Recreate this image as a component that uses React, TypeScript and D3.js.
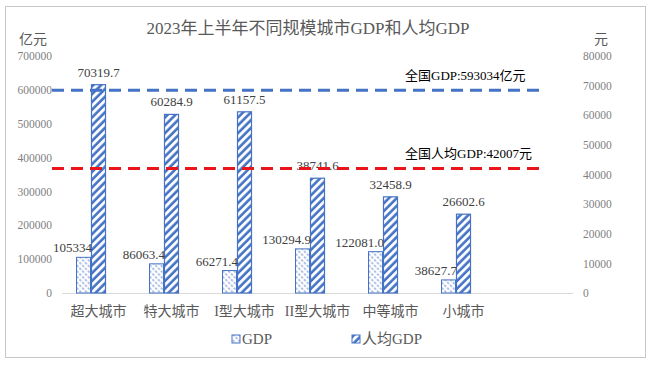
import React, { useEffect, useRef } from 'react';
import * as d3 from 'd3';

const categories = ['超大城市', '特大城市', 'I型大城市', 'II型大城市', '中等城市', '小城市'];
const gdpValues = [105334, 86063.4, 66271.4, 130294.9, 122081.0, 38627.7];
const gdpLabels = ['105334', '86063.4', '66271.4', '130294.9', '122081.0', '38627.7'];
const perCapita = [70319.7, 60284.9, 61157.5, 38741.6, 32458.9, 26602.6];
const perCapitaLabels = ['70319.7', '60284.9', '61157.5', '38741.6', '32458.9', '26602.6'];
const leftTicks = [0, 100000, 200000, 300000, 400000, 500000, 600000, 700000];
const rightTicks = [0, 10000, 20000, 30000, 40000, 50000, 60000, 70000, 80000];
const nationalGdp = 593034;
const nationalPerCapita = 42007;

const BLUE = '#4472C4';
const RED = '#E8161B';
const GREY = '#595959';
const SERIF = '"Times New Roman", "Liberation Serif", "Noto Sans CJK SC", serif';

const App: React.FC = () => {
  const ref = useRef<SVGSVGElement | null>(null);

  useEffect(() => {
    if (!ref.current) return;
    const svg = d3.select(ref.current);
    svg.selectAll('*').remove();

    const top = 56, bottom = 293;
    const left = 62, axisEnd = 573;
    const band = 73;

    const x0 = d3.scaleBand<string>()
      .domain(categories)
      .range([left, left + band * categories.length]);
    // third slot left empty, like the original grouping
    const x1 = d3.scaleBand<string>()
      .domain(['gdp', 'pc', 'empty'])
      .range([-22.5, 22.5]);

    const yL = d3.scaleLinear().domain([0, 700000]).range([bottom, top]);
    const yR = d3.scaleLinear().domain([0, 80000]).range([bottom, top]);

    const defs = svg.append('defs');
    const pc = defs.append('pattern')
      .attr('id', 'pcPat')
      .attr('patternUnits', 'userSpaceOnUse')
      .attr('width', 5.5).attr('height', 5.5)
      .attr('patternTransform', 'rotate(45)');
    pc.append('rect').attr('width', 5.5).attr('height', 5.5).attr('fill', '#fff');
    pc.append('line').attr('x1', 1.5).attr('x2', 1.5).attr('y1', 0).attr('y2', 5.5)
      .attr('stroke', BLUE).attr('stroke-width', 2.6);

    const gp = defs.append('pattern')
      .attr('id', 'gdpPat')
      .attr('patternUnits', 'userSpaceOnUse')
      .attr('width', 4).attr('height', 4)
      .attr('patternTransform', 'rotate(-45)');
    gp.append('rect').attr('width', 4).attr('height', 4).attr('fill', '#fff');
    gp.append('line').attr('x1', 1).attr('x2', 1).attr('y1', 0).attr('y2', 4)
      .attr('stroke', '#5f82cc').attr('stroke-width', 1).attr('stroke-dasharray', '2.5,1.5');

    // chart frame
    svg.append('rect')
      .attr('x', 5.5).attr('y', 6.5).attr('width', 640).attr('height', 351)
      .attr('fill', '#fff').attr('stroke', '#c8c8c8').attr('stroke-width', 1);

    svg.append('text')
      .attr('x', 308).attr('y', 34)
      .attr('text-anchor', 'middle')
      .attr('font-family', SERIF)
      .attr('font-size', 17)
      .attr('fill', GREY)
      .text('2023年上半年不同规模城市GDP和人均GDP');

    svg.append('text').attr('x', 33).attr('y', 44).attr('text-anchor', 'middle')
      .attr('font-family', SERIF).attr('font-size', 14).attr('fill', GREY).text('亿元');
    svg.append('text').attr('x', 601).attr('y', 44).attr('text-anchor', 'middle')
      .attr('font-family', SERIF).attr('font-size', 14).attr('fill', GREY).text('元');

    // axes
    const gL = svg.append('g')
      .attr('transform', `translate(${left},0)`)
      .call(d3.axisLeft(yL).tickValues(leftTicks).tickSize(0).tickPadding(10).tickFormat(d3.format('d')));
    gL.select('.domain').remove();
    gL.selectAll('text').attr('font-family', SERIF).attr('font-size', 11.5).attr('fill', '#7f7f7f');

    const gR = svg.append('g')
      .attr('transform', `translate(${axisEnd},0)`)
      .call(d3.axisRight(yR).tickValues(rightTicks).tickSize(0).tickPadding(10).tickFormat(d3.format('d')));
    gR.select('.domain').remove();
    gR.selectAll('text').attr('font-family', SERIF).attr('font-size', 11.5).attr('fill', '#7f7f7f');

    svg.append('line')
      .attr('x1', left).attr('x2', axisEnd).attr('y1', bottom + 0.5).attr('y2', bottom + 0.5)
      .attr('stroke', '#d9d9d9');

    const gX = svg.append('g')
      .attr('transform', `translate(0,${bottom})`)
      .call(d3.axisBottom(x0).tickSize(0).tickPadding(13));
    gX.select('.domain').remove();
    gX.selectAll('text')
      .attr('font-family', SERIF).attr('font-size', 14).attr('fill', GREY);

    // bars
    const groups = svg.append('g').selectAll('g')
      .data(categories)
      .join('g')
      .attr('transform', d => `translate(${(x0(d) || 0) + x0.bandwidth() / 2},0)`);

    groups.append('rect')
      .attr('x', (d, i) => (x1('gdp') || 0) + 0.5)
      .attr('y', (d, i) => yL(gdpValues[i]))
      .attr('width', x1.bandwidth() - 1)
      .attr('height', (d, i) => bottom - yL(gdpValues[i]))
      .attr('fill', 'url(#gdpPat)')
      .attr('stroke', BLUE).attr('stroke-width', 1);

    groups.append('rect')
      .attr('x', (d, i) => (x1('pc') || 0) + 0.5)
      .attr('y', (d, i) => yR(perCapita[i]))
      .attr('width', x1.bandwidth() - 1)
      .attr('height', (d, i) => bottom - yR(perCapita[i]))
      .attr('fill', 'url(#pcPat)')
      .attr('stroke', BLUE).attr('stroke-width', 1.2);

    groups.append('text')
      .attr('x', (x1('gdp') || 0) + x1.bandwidth() + 1)
      .attr('y', (d, i) => yL(gdpValues[i]) - 5)
      .attr('text-anchor', 'end')
      .attr('font-family', SERIF).attr('font-size', 13).attr('fill', '#404040')
      .text((d, i) => gdpLabels[i]);

    groups.append('text')
      .attr('x', (x1('pc') || 0) + x1.bandwidth() / 2)
      .attr('y', (d, i) => yR(perCapita[i]) - 8)
      .attr('text-anchor', 'middle')
      .attr('font-family', SERIF).attr('font-size', 13).attr('fill', '#404040')
      .text((d, i) => perCapitaLabels[i]);

    // national reference lines
    svg.append('line')
      .attr('x1', 52).attr('x2', 541)
      .attr('y1', yL(nationalGdp) - 2).attr('y2', yL(nationalGdp) - 2)
      .attr('stroke', BLUE).attr('stroke-width', 3).attr('stroke-dasharray', '12,7');
    svg.append('text')
      .attr('x', 405).attr('y', 80)
      .attr('font-family', SERIF).attr('font-size', 13).attr('fill', '#000')
      .text(`全国GDP:${nationalGdp}亿元`);

    svg.append('line')
      .attr('x1', 52).attr('x2', 541)
      .attr('y1', yR(nationalPerCapita)).attr('y2', yR(nationalPerCapita))
      .attr('stroke', RED).attr('stroke-width', 3).attr('stroke-dasharray', '12,7');
    svg.append('text')
      .attr('x', 405).attr('y', 158)
      .attr('font-family', SERIF).attr('font-size', 13).attr('fill', '#000')
      .text(`全国人均GDP:${nationalPerCapita}元`);

    // legend
    const legend = [
      { label: 'GDP', fill: 'url(#gdpPat)', x: 232 },
      { label: '人均GDP', fill: 'url(#pcPat)', x: 352 },
    ];
    const lg = svg.append('g').selectAll('g').data(legend).join('g')
      .attr('transform', d => `translate(${d.x},335)`);
    lg.append('rect').attr('width', 8).attr('height', 8)
      .attr('fill', d => d.fill).attr('stroke', BLUE).attr('stroke-width', 1);
    lg.append('text').attr('x', 10).attr('y', 9)
      .attr('font-family', SERIF).attr('font-size', 15).attr('fill', GREY)
      .text(d => d.label);
  }, []);

  return (
    <svg ref={ref} width={655} height={370}
      style={{ position: 'absolute', left: 0, top: 0, background: '#fff' }} />
  );
};

export default App;
